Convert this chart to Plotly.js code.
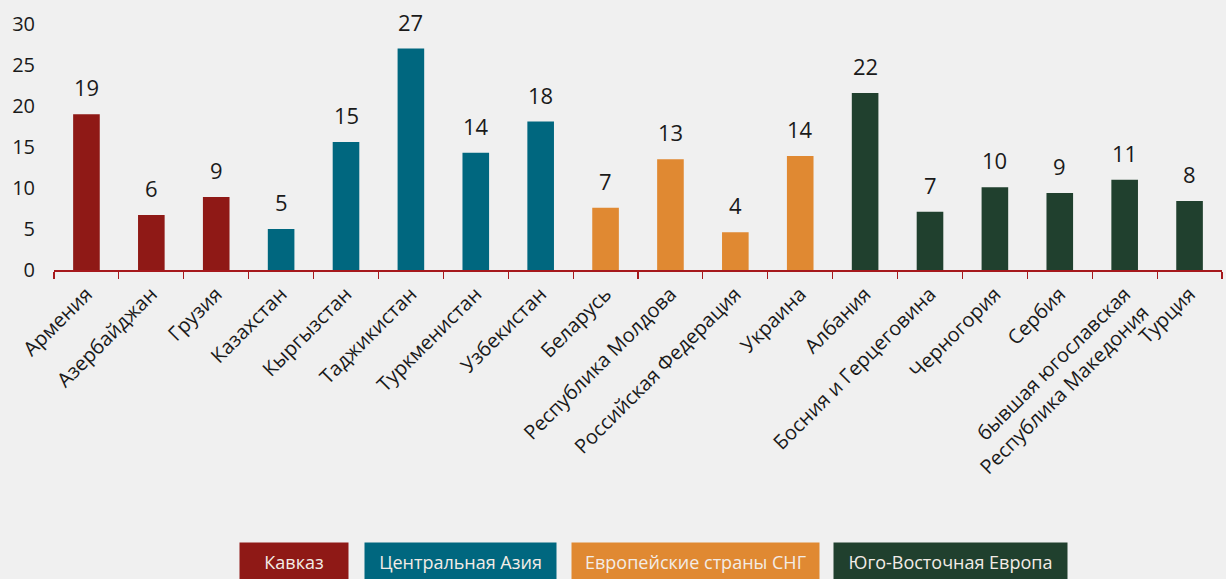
<!DOCTYPE html>
<html>
<head>
<meta charset="utf-8">
<script src="https://cdn.plot.ly/plotly-3.0.1.min.js"></script>
<style>
  html, body { margin: 0; padding: 0; background: #f0f0f0; }
  #chart { width: 1226px; height: 579px; }
</style>
</head>
<body>
<div id="chart"></div>
<script>
const categories = [
  "Армения", "Азербайджан", "Грузия",
  "Казахстан", "Кыргызстан", "Таджикистан", "Туркменистан", "Узбекистан",
  "Беларусь", "Республика Молдова", "Российская Федерация", "Украина",
  "Албания", "Босния и Герцеговина", "Черногория", "Сербия",
  "бывшая югославская<br>Республика Македония", "Турция"
];
const values = [19.0, 6.7, 8.9, 5.0, 15.6, 27.0, 14.3, 18.1, 7.6, 13.5, 4.6, 13.9, 21.6, 7.1, 10.1, 9.4, 11.0, 8.4];
const valueLabels = ["19", "6", "9", "5", "15", "27", "14", "18", "7", "13", "4", "14", "22", "7", "10", "9", "11", "8"];
const regionOfBar = [0, 0, 0, 1, 1, 1, 1, 1, 2, 2, 2, 2, 3, 3, 3, 3, 3, 3];
const regionNames = ["Кавказ", "Центральная Азия", "Европейские страны СНГ", "Юго-Восточная Европа"];
const regionColors = ["#8f1916", "#00677f", "#e08932", "#20402e"];

const W = 1226, H = 579;
const margin = {l: 54, r: 4, t: 24, b: 309};
const plotW = W - margin.l - margin.r;
const plotH = H - margin.t - margin.b;
function px2paperX(px) { return (px - margin.l) / plotW; }
function px2paperY(py) { return (H - margin.b - py) / plotH; }

const trace = {
  type: "bar",
  x: categories,
  y: values,
  marker: { color: regionOfBar.map(r => regionColors[r]) },
  hoverinfo: "x+y",
  showlegend: false
};

const annotations = categories.map((c, i) => ({
  x: c, y: values[i], xref: "x", yref: "y",
  text: valueLabels[i], showarrow: false,
  yanchor: "bottom", yshift: 10,
  font: { family: "Open Sans, Noto Sans, sans-serif", size: 22, color: "#1a1a1a" }
}));

// legend boxes (pixel extents)
const legendBoxes = [[239, 349], [364, 557], [571, 820], [833, 1068]];
const legendTop = 542, legendBottom = 581;
legendBoxes.forEach((b, i) => {
  annotations.push({
    xref: "paper", yref: "paper",
    x: px2paperX((b[0] + b[1]) / 2),
    y: px2paperY((legendTop + legendBottom) / 2),
    xanchor: "center", yanchor: "middle",
    width: b[1] - b[0] - 2, height: legendBottom - legendTop - 2,
    bgcolor: regionColors[i], borderpad: 0,
    showarrow: false, text: regionNames[i],
    font: { family: "Open Sans, Noto Sans, sans-serif", size: 18, color: "#f3ece6" }
  });
});

const layout = {
  width: W, height: H,
  margin: margin,
  paper_bgcolor: "#f0f0f0",
  plot_bgcolor: "#f0f0f0",
  bargap: 0.59,
  font: { family: "Open Sans, Noto Sans, sans-serif", color: "#1a1a1a" },
  xaxis: {
    type: "category",
    showline: true, linecolor: "#a6191c", linewidth: 1.5,
    ticks: "outside", tickson: "boundaries", ticklen: 7, tickwidth: 1.2, tickcolor: "#a6191c",
    tickangle: -45,
    ticklabelstandoff: 3,
    tickfont: { size: 20, color: "#1a1a1a" },
    showgrid: false, zeroline: false,
    automargin: false
  },
  yaxis: {
    range: [0, 30], dtick: 5, tick0: 0,
    showgrid: false, zeroline: false, showline: false, ticks: "",
    ticklabelstandoff: 18,
    tickfont: { size: 20, color: "#1a1a1a" },
    automargin: false
  },
  annotations: annotations
};

Plotly.newPlot("chart", [trace], layout, { displayModeBar: false, staticPlot: true });
</script>
</body>
</html>
